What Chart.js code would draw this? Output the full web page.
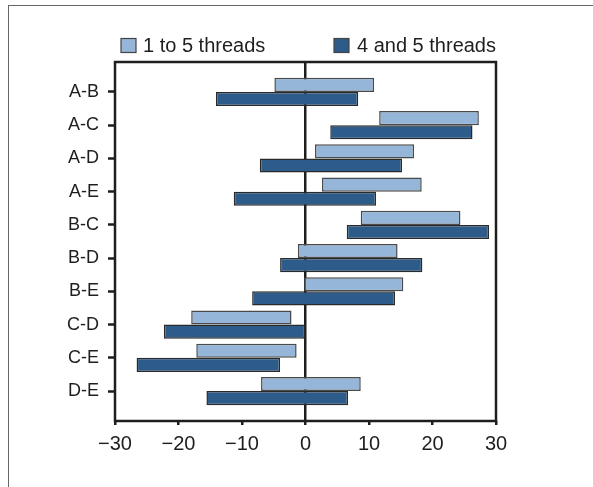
<!DOCTYPE html>
<html>
<head>
<meta charset="utf-8">
<script src="https://cdn.jsdelivr.net/npm/chart.js@4.4.1/dist/chart.umd.min.js"></script>
<style>
  html, body { margin: 0; padding: 0; background: #fff; overflow: hidden; }
  #frame { position: absolute; left: 8px; top: 5px; width: 620px; height: 520px;
           border-top: 1.5px solid #666; border-left: 1.5px solid #666; }
  #wrap { position: absolute; left: 0; top: 0; width: 593px; height: 487px; }
</style>
</head>
<body>
<div id="frame"></div>
<div id="wrap"><canvas id="c" width="593" height="487"></canvas></div>
<script>
const categories = ['A-B', 'A-C', 'A-D', 'A-E', 'B-C', 'B-D', 'B-E', 'C-D', 'C-E', 'D-E'];
const seriesLabels = ['1 to 5 threads', '4 and 5 threads'];
const lightStart = [-4.9, 11.6, 1.5, 2.6, 8.7, -1.2, -0.2, -18.0, -17.2, -7.0];
const lightEnd   = [10.8, 27.3, 17.1, 18.3, 24.4, 14.5, 15.4, -2.2, -1.4, 8.7];
const darkStart  = [-14.1, 3.9, -7.2, -11.3, 6.5, -4.0, -8.4, -22.3, -26.6, -15.6];
const darkEnd    = [8.3, 26.3, 15.2, 11.1, 28.9, 18.4, 14.1, -0.1, -4.0, 6.7];
const xTicks = [-30, -20, -10, 0, 10, 20, 30];

const LIGHT = '#95b6d8';
const DARK = '#2e5c8a';
const INK = '#1e1e1e';
const FONT = "'Liberation Sans', Arial, sans-serif";

const toPoints = (s, e) => categories.map((c, i) => ({ x: [s[i], e[i]], y: i }));

const framePlugin = {
  id: 'framePlugin',
  afterDatasetsDraw(chart) {
    const { ctx, chartArea: a } = chart;
    ctx.save();
    ctx.strokeStyle = INK;
    ctx.lineWidth = 2.5;
    ctx.strokeRect(a.left, a.top, a.right - a.left, a.bottom - a.top);
    ctx.restore();
  }
};

const legendPlugin = {
  id: 'customLegend',
  afterDraw(chart) {
    const { ctx } = chart;
    const items = [{ x: 121, tx: 143 }, { x: 334, tx: 357 }];
    ctx.save();
    chart.data.datasets.forEach((ds, i) => {
      const it = items[i];
      ctx.fillStyle = ds.backgroundColor;
      ctx.fillRect(it.x, 38.5, 15, 14);
      ctx.strokeStyle = '#444';
      ctx.lineWidth = 1.2;
      ctx.strokeRect(it.x, 38.5, 15, 14);
      ctx.fillStyle = INK;
      ctx.font = '20px ' + FONT;
      ctx.textBaseline = 'middle';
      ctx.textAlign = 'left';
      ctx.fillText(ds.label, it.tx, 46);
    });
    ctx.restore();
  }
};

new Chart(document.getElementById('c'), {
  type: 'bar',
  data: {
    datasets: [
      { label: seriesLabels[0], data: toPoints(lightStart, lightEnd), backgroundColor: LIGHT,
        borderColor: '#4a4a4a', borderWidth: 1.5, borderSkipped: false },
      { label: seriesLabels[1], data: toPoints(darkStart, darkEnd), backgroundColor: DARK,
        borderColor: '#2a2a2a', borderWidth: 1.5, borderSkipped: false }
    ]
  },
  options: {
    responsive: false,
    animation: false,
    indexAxis: 'y',
    categoryPercentage: 0.85,
    barPercentage: 1.0,
    layout: { padding: { top: 62, right: 97, left: 0, bottom: 0 } },
    plugins: { legend: { display: false }, tooltip: { enabled: false } },
    scales: {
      x: {
        type: 'linear', position: 'bottom', min: -30, max: 30, offset: false,
        afterBuildTicks(scale) { scale.ticks = xTicks.map(v => ({ value: v })); },
        afterFit(scale) { scale.height = 66; },
        border: { display: false },
        grid: {
          offset: false,
          drawOnChartArea: true,
          color: c => (c.tick && c.tick.value === 0) ? INK : 'rgba(0,0,0,0)',
          lineWidth: 2.5,
          tickColor: INK,
          tickWidth: 2.5,
          tickLength: 4
        },
        ticks: {
          color: INK, padding: 7,
          font: { family: FONT, size: 20 },
          callback: v => (v < 0 ? '\u2212' + Math.abs(v) : String(v))
        }
      },
      y: {
        type: 'linear', position: 'left', reverse: true, min: -0.9, max: 9.9, offset: false,
        afterBuildTicks(scale) { scale.ticks = categories.map((c, i) => ({ value: i })); },
        afterFit(scale) { scale.width = 115; },
        border: { display: false },
        grid: {
          offset: false,
          drawOnChartArea: false,
          color: INK,
          tickColor: INK,
          tickWidth: 2.5,
          tickLength: 7
        },
        ticks: {
          color: INK, padding: 9,
          font: { family: FONT, size: 18 },
          callback: v => categories[v] !== undefined ? categories[v] : ''
        }
      }
    }
  },
  plugins: [framePlugin, legendPlugin]
});
</script>
</body>
</html>
